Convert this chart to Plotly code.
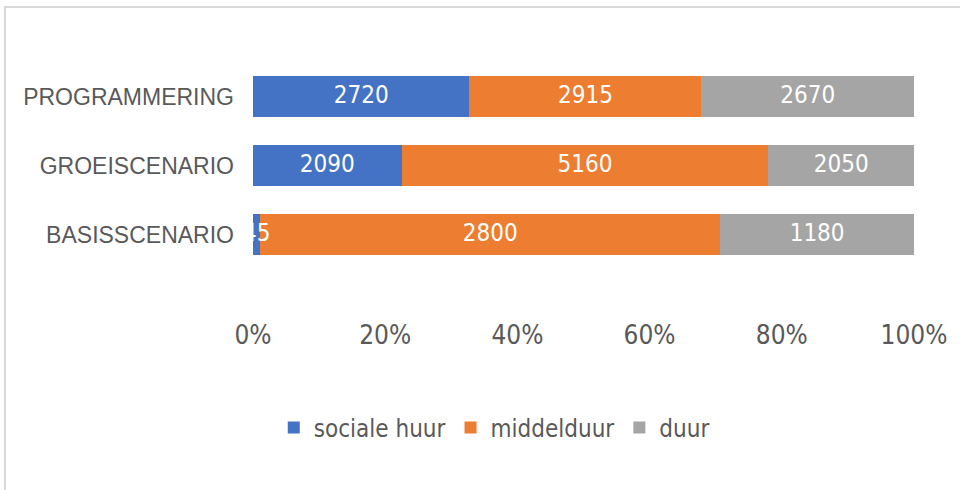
import plotly.graph_objects as go

categories = ["BASISSCENARIO", "GROEISCENARIO", "PROGRAMMERING"]
sociale_huur = [45, 2090, 2720]
middelduur = [2800, 5160, 2915]
duur = [1180, 2050, 2670]
x_ticks = [0, 20, 40, 60, 80, 100]
x_tick_labels = ["0%", "20%", "40%", "60%", "80%", "100%"]

series = [("sociale huur", sociale_huur, "#4472C4"),
          ("middelduur", middelduur, "#ED7D31"),
          ("duur", duur, "#A5A5A5")]

totals = [a + b + c for a, b, c in zip(sociale_huur, middelduur, duur)]

NARROW = "DejaVu Sans Condensed, Liberation Sans Narrow, sans-serif"

fig = go.Figure()
base = [0.0] * len(categories)
lab_x, lab_y, lab_t = [], [], []
for name, vals, color in series:
    pct = [v / t * 100 for v, t in zip(vals, totals)]
    fig.add_trace(go.Bar(
        y=categories, x=pct, name=name, orientation="h",
        marker=dict(color=color, line=dict(width=0)),
        hoverinfo="name+text", hovertext=[str(v) for v in vals],
    ))
    for i, (p, v) in enumerate(zip(pct, vals)):
        lab_x.append(base[i] + p / 2)
        lab_y.append(categories[i])
        lab_t.append(str(v))
        base[i] += p

# data labels drawn on top of all bars
fig.add_trace(go.Scatter(
    x=lab_x, y=lab_y, text=lab_t, mode="text",
    textposition="middle center",
    textfont=dict(color="white", size=24, family=NARROW),
    showlegend=False, hoverinfo="skip", cliponaxis=False,
))

fig.update_layout(
    barmode="stack",
    bargap=0.42,
    width=960, height=490,
    paper_bgcolor="white", plot_bgcolor="white",
    margin=dict(l=253, r=46, t=62, b=221),
    font=dict(family=NARROW, color="#595959"),
    xaxis=dict(range=[0, 100], tickvals=x_ticks, ticktext=x_tick_labels,
               showgrid=False, zeroline=False, showline=False,
               tickfont=dict(size=26, color="#595959", family=NARROW),
               ticklabelstandoff=48, fixedrange=True),
    yaxis=dict(showgrid=False, zeroline=False, showline=False,
               tickfont=dict(size=23, color="#595959",
                             family="Liberation Sans, Arial, sans-serif"),
               ticklabelstandoff=18, fixedrange=True),
    legend=dict(orientation="h", x=0.365, xanchor="center", y=-0.768, yanchor="middle",
                font=dict(size=24, color="#595959", family=NARROW),
                itemwidth=30, traceorder="normal"),
    shapes=[dict(type="rect", xref="paper", yref="paper",
                 x0=-248/661, x1=1.5, y0=-2, y1=1 + 55/207,
                 line=dict(color="#D9D9D9", width=2), fillcolor="rgba(0,0,0,0)",
                 layer="below")],
    showlegend=True,
)

fig.write_html("out.html", config={"displayModeBar": False},
               post_script="document.body.style.margin='0';")
